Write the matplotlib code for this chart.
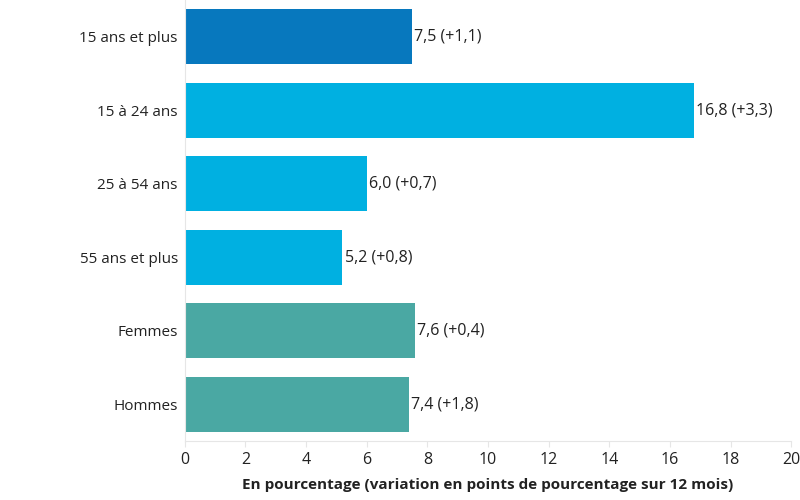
import matplotlib.pyplot as plt

categories = ["15 ans et plus", "15 à 24 ans", "25 à 54 ans", "55 ans et plus", "Femmes", "Hommes"]
values = [7.5, 16.8, 6.0, 5.2, 7.6, 7.4]
changes = ["+1,1", "+3,3", "+0,7", "+0,8", "+0,4", "+1,8"]
colors = ["#0778BE", "#00B0E1", "#00B0E1", "#00B0E1", "#4AA8A3", "#4AA8A3"]

plt.rcParams['font.family'] = ['Open Sans', 'DejaVu Sans']

fig = plt.figure(figsize=(8, 5), dpi=100)
ax = fig.add_axes([0.231, 0.118, 0.758, 0.882])

pos = list(range(len(categories)))
ax.barh(pos, values, height=0.75, color=colors)
for p, v, c in zip(pos, values, changes):
    lbl = f"{v:.1f}".replace(".", ",") + f" ({c})"
    ax.text(v + 0.07, p, lbl, va="center", ha="left", fontsize=11.5, color="#222222")

ax.set_yticks(pos)
ax.set_yticklabels(categories, fontsize=11, color="#222222")
ax.set_ylim(len(categories) - 0.5, -0.5)
ax.set_xlim(0, 20)
ax.set_xticks(range(0, 21, 2))
ax.tick_params(axis="x", labelsize=11.5, colors="#222222", length=4, color="#e6e6e6", pad=4)
ax.tick_params(axis="y", length=0, pad=5)
ax.set_xlabel("En pourcentage (variation en points de pourcentage sur 12 mois)",
              fontsize=11, fontweight="bold", color="#222222", labelpad=7)

for s in ["top", "right"]:
    ax.spines[s].set_visible(False)
for s in ["left", "bottom"]:
    ax.spines[s].set_color("#e6e6e6")

fig.savefig("out.png", dpi=100)
